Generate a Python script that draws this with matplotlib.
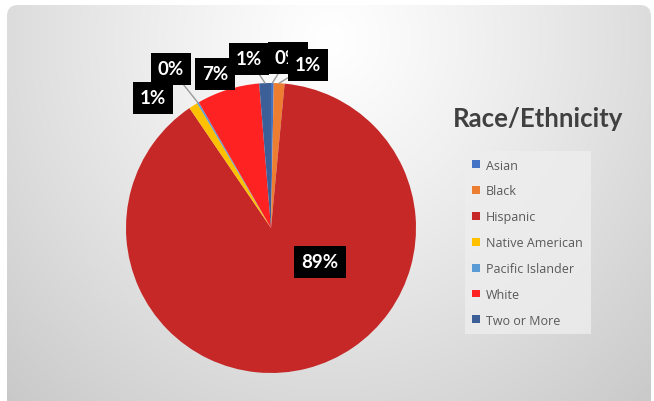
import matplotlib
matplotlib.use("Agg")
import matplotlib.pyplot as plt
import numpy as np
from matplotlib.patches import FancyBboxPatch

# data
categories = ['Asian', 'Black', 'Hispanic', 'Native American',
              'Pacific Islander', 'White', 'Two or More']
values = [0.3, 1.2, 89.0, 1.0, 0.2, 7.0, 1.3]
pct_labels = ['0%', '1%', '89%', '1%', '0%', '7%', '1%']
colors = ['#4472C4', '#ED7D31', '#C62828', '#FFC000', '#5B9BD5', '#FF2222', '#3C5F97']

# label box centres in pixels (layout only)
label_px = [(288, 59), (308, 66), (320, 263), (153, 99), (171, 70), (215, 75), (249, 60)]
leader = [True, True, False, False, True, True, True]

W, H = 654, 402
fig = plt.figure(figsize=(W / 100, H / 100), dpi=100)
fig.patch.set_facecolor('white')

# ---------------------------
# background: rounded box with radial grey gradient
# ---------------------------
bg = fig.add_axes([0, 0, 1, 1])
bg.set_xlim(0, W)
bg.set_ylim(H, 0)
bg.axis('off')
yy, xx = np.mgrid[0:H, 0:W]
d = np.sqrt(((xx - 330) / 1.0) ** 2 + ((yy - 40) / 1.05) ** 2)
t = np.clip(d / 480, 0, 1) ** 1.15
g = (255 - 55 * t) / 255
img = np.dstack([g, g, g])
im = bg.imshow(img, extent=(0, W, H, 0), interpolation='bilinear', zorder=0)
box = FancyBboxPatch((7, 6), 644, 430, boxstyle="round,pad=0,rounding_size=11",
                     transform=bg.transData, facecolor='none', edgecolor='none')
bg.add_patch(box)
im.set_clip_path(box)

# ---------------------------
# pie
# ---------------------------
cx, cy, r = 271, 229, 145
ax = fig.add_axes([(cx - r) / W, (H - cy - r) / H, 2 * r / W, 2 * r / H])
wedges, _ = ax.pie(values, colors=colors, startangle=90, counterclock=False,
                   radius=1, wedgeprops=dict(linewidth=0))
ax.set_xlim(-1, 1)
ax.set_ylim(-1, 1)
ax.axis('off')

total = sum(values)
cum = 0
for v, lab, (px, py), ll in zip(values, pct_labels, label_px, leader):
    mid = np.deg2rad(90 - 360 * (cum + v / 2) / total)
    cum += v
    edge = (np.cos(mid), np.sin(mid))
    pos = ((px - cx) / r, (cy - py) / r)
    ax.annotate(lab, xy=edge, xytext=pos, ha='center', va='center',
                fontsize=13.5, fontweight='bold', family=['Lato', 'DejaVu Sans'],
                color='white', annotation_clip=False,
                bbox=dict(boxstyle='square,pad=0.38', fc='black', ec='none'),
                arrowprops=dict(arrowstyle='-', color='#999999', lw=1.0,
                                shrinkA=0, shrinkB=0) if ll else None)

# ---------------------------
# title and legend
# ---------------------------
fig.text(538 / W, 1 - 119 / H, 'Race/Ethnicity', ha='center', va='center',
         fontsize=18.5, fontweight='bold', color='#404040', family=['Lato', 'DejaVu Sans'])

leg = fig.legend(wedges, categories, loc='upper left',
                 bbox_to_anchor=(465 / W, 1 - 152 / H),
                 frameon=True, fancybox=False,
                 handlelength=0.6, handleheight=0.6, handletextpad=0.5,
                 labelspacing=1.03, borderpad=0.6, borderaxespad=0,
                 prop={'family': ['Open Sans', 'DejaVu Sans'], 'size': 9})
leg.get_frame().set_facecolor('#EEEEEE')
leg.get_frame().set_edgecolor('none')
leg.get_frame().set_alpha(0.8)
for txt in leg.get_texts():
    txt.set_color('#595959')

fig.savefig('out.png', dpi=100)
